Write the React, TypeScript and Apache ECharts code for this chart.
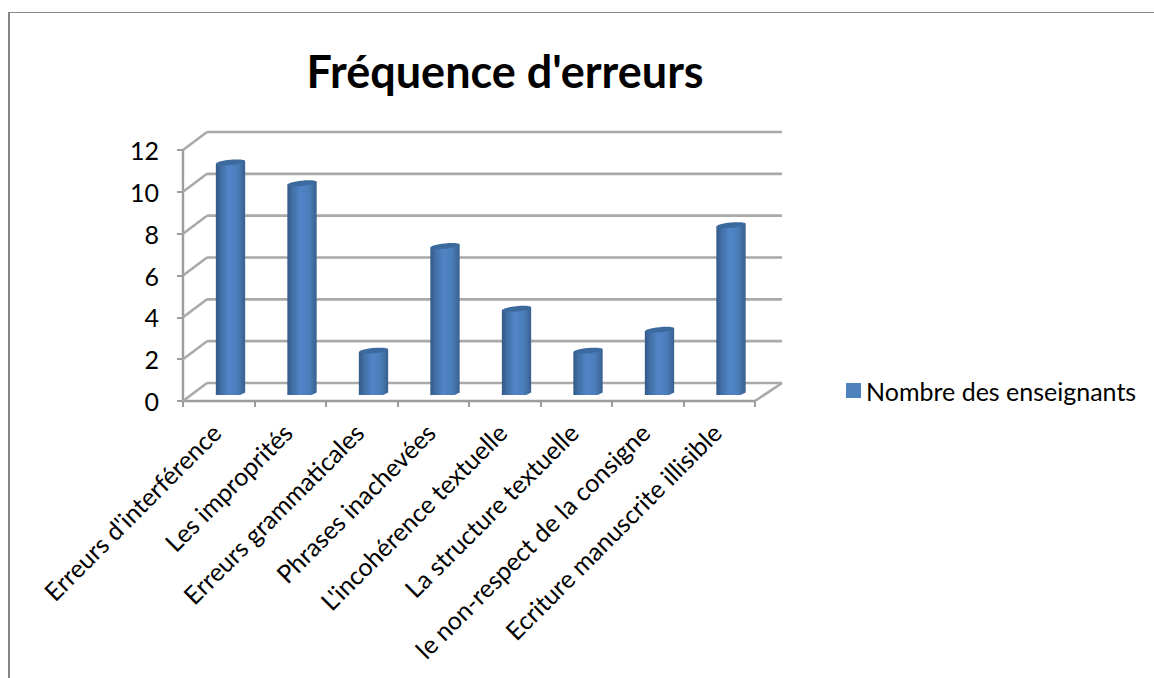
import React, { useEffect, useRef } from "react";
import * as echarts from "echarts";

const categories = [
  "Erreurs d'interférence",
  "Les improprités",
  "Erreurs grammaticales",
  "Phrases inachevées",
  "L'incohérence textuelle",
  "La structure textuelle",
  "le non-respect de la consigne",
  "Ecriture manuscrite illisible",
];
const enseignants = [11, 10, 2, 7, 4, 2, 3, 8];
const wallTicks = [0, 2, 4, 6, 8, 10, 12];
const seriesName = "Nombre des enseignants";
const chartTitle = "Fréquence d'erreurs";

const FONT = "Lato, Carlito, 'Open Sans', sans-serif";
const WALL = "#a9a9a9";
const AXIS = "#9c9c9c";
const BLUE = "#4f81bd";

// Oblique projection of the chart box: how far the back wall sits from the front axes.
const DEPTH_Y = -18;
const DEPTH_X_LEFT = 24;
const DEPTH_X_RIGHT = 27;
// Where the cylinders stand on the floor, relative to the front of their band.
const BAR_SHIFT_X = 11.75;
const BAR_SHIFT_Y = -8.5;

function renderWalls(params: any, api: any) {
  const value = api.value(0);
  const [bandW] = api.size([1, 0]);
  const [cx0, y] = api.coord([0, value]);
  const [cxN] = api.coord([categories.length - 1, value]);
  const left = cx0 - bandW / 2;
  const right = cxN + bandW / 2;
  const style = { stroke: WALL, lineWidth: 2.6, fill: null };
  const children: any[] = [
    {
      type: "line",
      shape: { x1: left, y1: y, x2: left + DEPTH_X_LEFT, y2: y + DEPTH_Y },
      style,
    },
    {
      type: "line",
      shape: {
        x1: left + DEPTH_X_LEFT,
        y1: y + DEPTH_Y,
        x2: right + DEPTH_X_RIGHT,
        y2: y + DEPTH_Y,
      },
      style,
    },
  ];
  if (value === 0) {
    children.push({
      type: "line",
      shape: { x1: right, y1: y, x2: right + DEPTH_X_RIGHT, y2: y + DEPTH_Y },
      style,
    });
  }
  return { type: "group", children };
}

function renderCylinder(params: any, api: any) {
  const cat = api.value(0);
  const val = api.value(1);
  const [bandW] = api.size([1, 0]);
  const [cx, topRaw] = api.coord([cat, val]);
  const [, botRaw] = api.coord([cat, 0]);
  const xc = cx + BAR_SHIFT_X;
  const top = topRaw + BAR_SHIFT_Y;
  const bot = botRaw + BAR_SHIFT_Y;
  const rx = bandW * 0.205;
  const x0 = xc - rx;
  const x1 = xc + rx;
  const bodyFill = new echarts.graphic.LinearGradient(0, 0, 1, 0, [
    { offset: 0, color: "#335a88" },
    { offset: 0.18, color: "#426fa5" },
    { offset: 0.45, color: "#5185c8" },
    { offset: 0.75, color: "#4b7db9" },
    { offset: 1, color: "#38608f" },
  ]);
  return {
    type: "group",
    children: [
      {
        type: "polygon",
        shape: {
          points: [
            [x0, top + 1.5],
            [x0, bot + 2.5],
            [x1 - 5, bot + 2.5],
            [x1, bot],
            [x1, top - 1.5],
          ],
        },
        style: { fill: bodyFill },
      },
      {
        type: "ellipse",
        x: xc,
        y: top,
        rotation: 0.1,
        shape: { cx: 0, cy: 0, rx, ry: 2.6 },
        style: { fill: "#3c6a9e" },
      },
    ],
  };
}

export default function App() {
  const ref = useRef<HTMLDivElement>(null);

  useEffect(() => {
    const chart = echarts.init(ref.current!, undefined, { renderer: "svg" });
    chart.setOption({
      animation: false,
      backgroundColor: "#fff",
      title: {
        text: chartTitle,
        left: 505,
        top: 48,
        padding: 0,
        textAlign: "center",
        textStyle: {
          fontFamily: FONT,
          fontSize: 45,
          fontWeight: "bold",
          color: "#000",
        },
      },
      legend: {
        left: 846,
        top: 378,
        padding: 0,
        itemWidth: 15,
        itemHeight: 15,
        data: [{ name: seriesName, icon: "rect" }],
        textStyle: { fontFamily: FONT, fontSize: 25, color: "#000" },
      },
      grid: { left: 183, top: 150, width: 572, height: 251 },
      xAxis: {
        type: "category",
        data: categories,
        axisLine: { show: true, lineStyle: { color: AXIS, width: 2.4 } },
        axisTick: { show: true, length: 6, lineStyle: { color: AXIS, width: 2 } },
        axisLabel: {
          rotate: 45,
          interval: 0,
          margin: 24,
          padding: [0, 4, 0, 0],
          fontFamily: FONT,
          fontSize: 25,
          color: "#000",
        },
      },
      yAxis: {
        type: "value",
        min: 0,
        max: 12,
        interval: 2,
        splitLine: { show: false },
        axisLine: { show: true, lineStyle: { color: AXIS, width: 2.4 } },
        axisTick: { show: true, length: 6, lineStyle: { color: AXIS, width: 2 } },
        axisLabel: {
          margin: 24,
          fontFamily: FONT,
          fontSize: 25,
          color: "#000",
        },
      },
      graphic: [
        {
          type: "line",
          silent: true,
          shape: { x1: 8, y1: 12.5, x2: 1154, y2: 12.5 },
          style: { stroke: "#868686", lineWidth: 1.2 },
        },
        {
          type: "line",
          silent: true,
          shape: { x1: 9, y1: 12, x2: 9, y2: 678 },
          style: { stroke: "#868686", lineWidth: 2 },
        },
      ],
      series: [
        {
          name: "Parois",
          type: "custom",
          clip: false,
          silent: true,
          z: 1,
          data: wallTicks.map((t) => [t]),
          encode: { y: 0 },
          renderItem: renderWalls,
        },
        {
          name: seriesName,
          type: "custom",
          clip: false,
          z: 3,
          itemStyle: { color: BLUE },
          data: enseignants.map((v, i) => [i, v]),
          encode: { x: 0, y: 1 },
          renderItem: renderCylinder,
        },
      ],
    });
    return () => chart.dispose();
  }, []);

  return (
    <div
      ref={ref}
      style={{ position: "fixed", left: 0, top: 0, width: 1154, height: 678 }}
    />
  );
}
